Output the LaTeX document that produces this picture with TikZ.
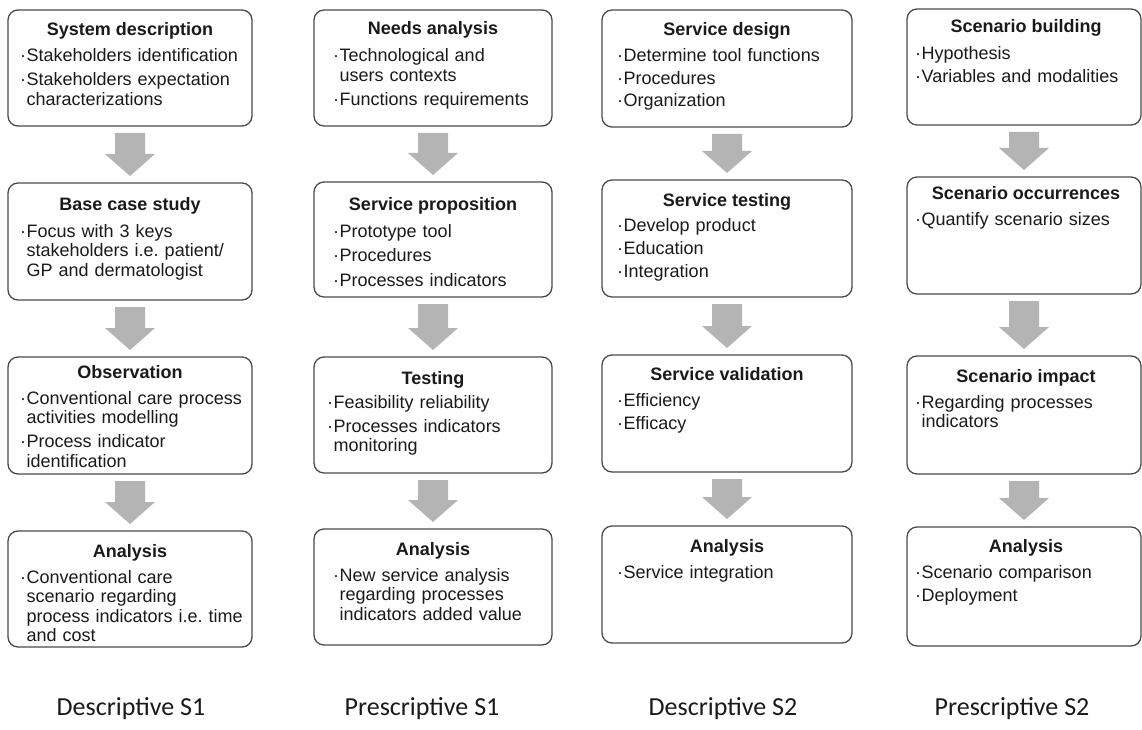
\documentclass[tikz,border=0pt]{standalone}
\usepackage{fontspec}
\setmainfont{Liberation Sans}
\newfontfamily\lblfont{Carlito}
\usetikzlibrary{calc}
\frenchspacing
\definecolor{bordercol}{HTML}{4A4A4A}
\definecolor{arrowcol}{HTML}{B4B4B4}
\definecolor{textcol}{HTML}{1A1A1A}
\newcommand\itm[1]{\hangindent=6.5pt\hangafter=1 \makebox[6.5pt][l]{·}{\let\\\newline #1}\par}
\newcommand\blockarrow[2]{%
  \path ($(#1.south)+(0,7)$) coordinate (#1-s) ($(#2.north)+(0,-7)$) coordinate (#2-n);
  \fill[arrowcol] let \p1=(#1-s), \p2=(#2-n) in
    (\x1-15pt,\y1) -- (\x1+15pt,\y1) -- (\x1+15pt,\y2+22pt) -- (\x1+25pt,\y2+22pt)
    -- (\x1,\y2) -- (\x1-25pt,\y2+22pt) -- (\x1-15pt,\y2+22pt) -- cycle;}
\tikzset{
  box/.style={draw=bordercol, line width=1.3pt, rounded corners=10pt, fill=white,
    inner sep=0pt, outer sep=0pt, anchor=north west},
  ttl/.style={font=\bfseries\fontsize{18}{21}\selectfont, text=textcol, anchor=base, inner sep=0pt},
  body/.style={font=\frenchspacing\fontsize{18}{19.5}\selectfont, text=textcol, anchor=base west,
    inner sep=0pt, text width=250pt, align=left},
  lbl/.style={font=\lblfont\fontsize{26}{30}\selectfont, text=textcol, anchor=base, inner sep=0pt},
}
\begin{document}
\begin{tikzpicture}[x=1pt, y=-1pt]
\fill[white] (0,0) rectangle (1142,730);
\useasboundingbox (0,0) rectangle (1142,730);

% ---------- Column 1 ----------
\node[box, minimum width=244pt, minimum height=116pt] (b11) at (8,10) {};
\node[ttl] (t11) at (130,36) {System description};
\node[body] (x11) at (20,62) {\setlength\parskip{4.5pt}\itm{Stakeholders identification}\itm{Stakeholders expectation\\characterizations}};

\node[box, minimum width=244pt, minimum height=117pt] (b12) at (8,183) {};
\node[ttl] (t12) at (130,211) {Base case study};
\node[body] (x12) at (20,237) {\setlength\parskip{4.5pt}\itm{Focus with 3 keys\\stakeholders i.e. patient/\\GP and dermatologist}};

\node[box, minimum width=244pt, minimum height=117pt] (b13) at (8,357) {};
\node[ttl] (t13) at (130,378) {Observation};
\node[body] (x13) at (20,404) {\setlength\parskip{4.5pt}\itm{Conventional care process\\activities modelling}\itm{Process indicator\\identification}};

\node[box, minimum width=244pt, minimum height=116pt] (b14) at (8,531) {};
\node[ttl] (t14) at (130,557) {Analysis};
\node[body] (x14) at (20,583) {\setlength\parskip{4.5pt}\itm{Conventional care\\scenario regarding\\process indicators i.e. time\\and cost}};

% ---------- Column 2 ----------
\node[box, minimum width=238pt, minimum height=116pt] (b21) at (314,10) {};
\node[ttl] (t21) at (433,35) {Needs analysis};
\node[body] (x21) at (333,62) {\setlength\parskip{4.5pt}\itm{Technological and\\users contexts}\itm{Functions requirements}};

\node[box, minimum width=238pt, minimum height=115pt] (b22) at (314,182) {};
\node[ttl] (t22) at (433,210) {Service proposition};
\node[body] (x22) at (333,237) {\setlength\parskip{5pt}\itm{Prototype tool}\itm{Procedures}\itm{Processes indicators}};

\node[box, minimum width=238pt, minimum height=116pt] (b23) at (314,357) {};
\node[ttl] (t23) at (433,384) {Testing};
\node[body] (x23) at (327,408) {\setlength\parskip{4.5pt}\itm{Feasibility reliability}\itm{Processes indicators\\monitoring}};

\node[box, minimum width=238pt, minimum height=116pt] (b24) at (314,529) {};
\node[ttl] (t24) at (433,555) {Analysis};
\node[body] (x24) at (333,581) {\setlength\parskip{4.5pt}\itm{New service analysis\\regarding processes\\indicators added value}};

% ---------- Column 3 ----------
\node[box, minimum width=250pt, minimum height=117pt] (b31) at (602,10) {};
\node[ttl] (t31) at (727,36) {Service design};
\node[body] (x31) at (617,62) {\setlength\parskip{3pt}\itm{Determine tool functions}\itm{Procedures}\itm{Organization}};

\node[box, minimum width=250pt, minimum height=117pt] (b32) at (602,180) {};
\node[ttl] (t32) at (727,206) {Service testing};
\node[body] (x32) at (617,231) {\setlength\parskip{3.5pt}\itm{Develop product}\itm{Education}\itm{Integration}};

\node[box, minimum width=250pt, minimum height=117pt] (b33) at (602,355) {};
\node[ttl] (t33) at (727,380) {Service validation};
\node[body] (x33) at (617,406) {\setlength\parskip{3.5pt}\itm{Efficiency}\itm{Efficacy}};

\node[box, minimum width=250pt, minimum height=117pt] (b34) at (602,526) {};
\node[ttl] (t34) at (727,552) {Analysis};
\node[body] (x34) at (617,578) {\setlength\parskip{3.5pt}\itm{Service integration}};

% ---------- Column 4 ----------
\node[box, minimum width=234pt, minimum height=116pt] (b41) at (907,9) {};
\node[ttl] (t41) at (1026,33) {Scenario building};
\node[body] (x41) at (915,60) {\setlength\parskip{3.5pt}\itm{Hypothesis}\itm{Variables and modalities}};

\node[box, minimum width=234pt, minimum height=117pt] (b42) at (907,177) {};
\node[ttl] (t42) at (1026,200) {Scenario occurrences};
\node[body] (x42) at (915,225) {\setlength\parskip{3.5pt}\itm{Quantify scenario sizes}};

\node[box, minimum width=234pt, minimum height=118pt] (b43) at (907,356) {};
\node[ttl] (t43) at (1026,382) {Scenario impact};
\node[body] (x43) at (915,408) {\setlength\parskip{3.5pt}\itm{Regarding processes\\indicators}};

\node[box, minimum width=234pt, minimum height=119pt] (b44) at (907,527) {};
\node[ttl] (t44) at (1026,552) {Analysis};
\node[body] (x44) at (915,578) {\setlength\parskip{3.5pt}\itm{Scenario comparison}\itm{Deployment}};

% ---------- Arrows ----------
\blockarrow{b11}{b12}\blockarrow{b12}{b13}\blockarrow{b13}{b14}
\blockarrow{b21}{b22}\blockarrow{b22}{b23}\blockarrow{b23}{b24}
\blockarrow{b31}{b32}\blockarrow{b32}{b33}\blockarrow{b33}{b34}
\blockarrow{b41}{b42}\blockarrow{b42}{b43}\blockarrow{b43}{b44}

% ---------- Column labels ----------
\node[lbl] (l1) at (131,715) {Descriptive S1};
\node[lbl] (l2) at (422,715) {Prescriptive S1};
\node[lbl] (l3) at (723,715) {Descriptive S2};
\node[lbl] (l4) at (1012,715) {Prescriptive S2};
\end{tikzpicture}
\end{document}
